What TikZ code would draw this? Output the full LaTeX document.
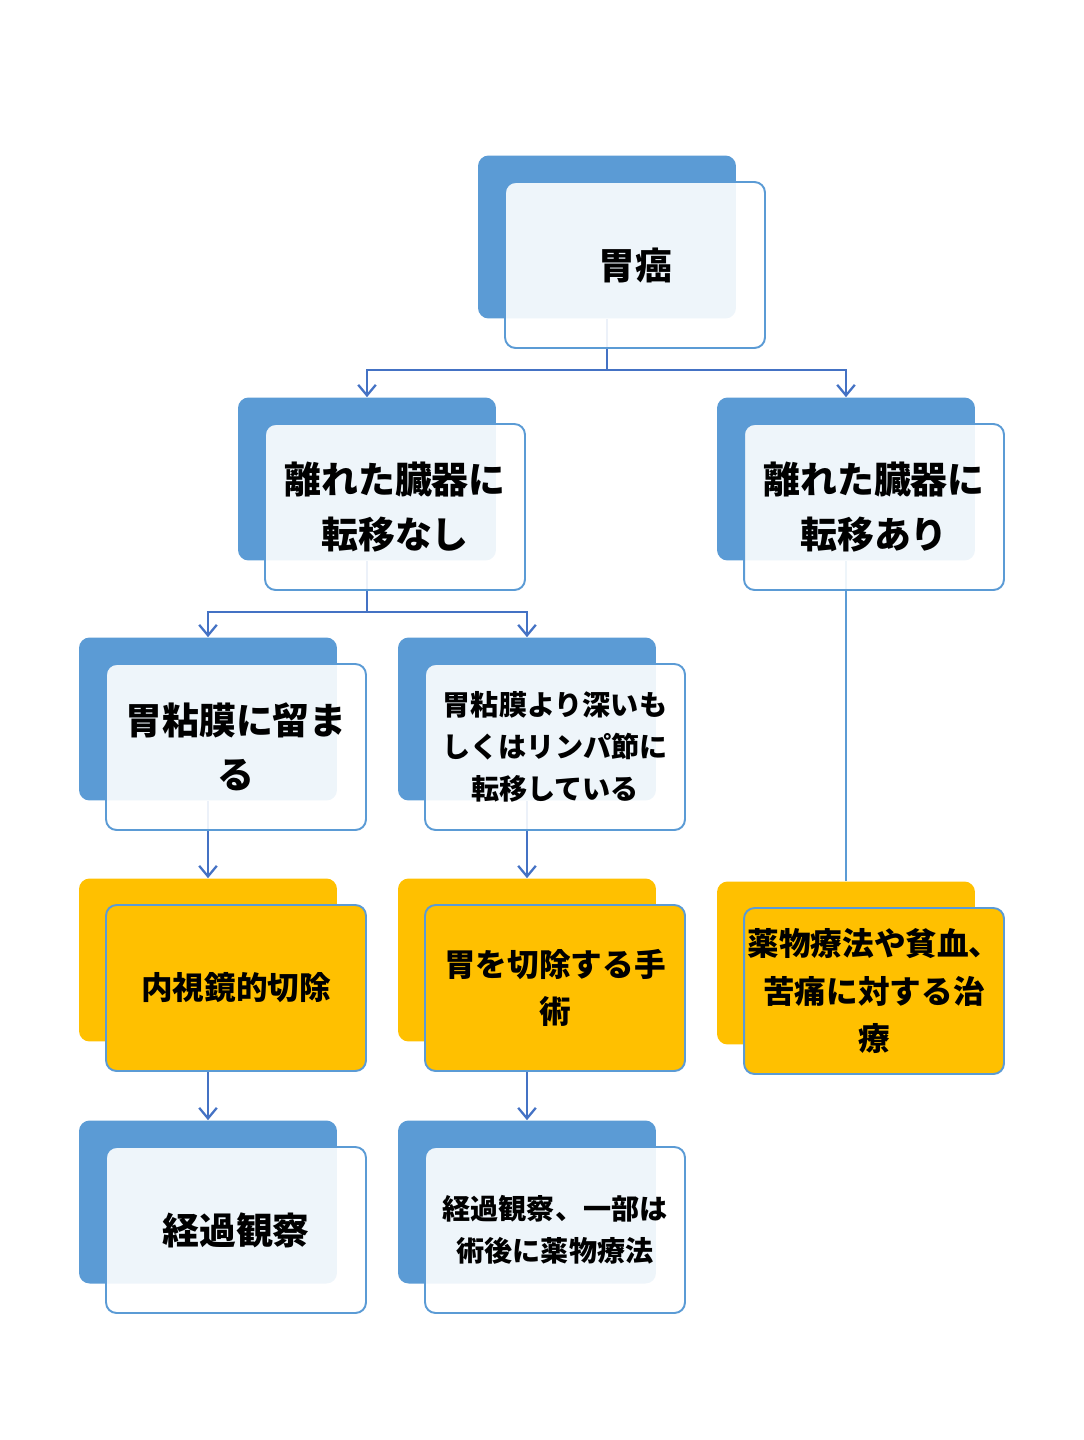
\documentclass[tikz,border=0pt]{standalone}
\usepackage{fontspec}
\newfontfamily\jp{Noto Sans CJK JP}
\usetikzlibrary{arrows.meta}
\definecolor{boxblue}{HTML}{5B9BD5}
\definecolor{lineblue}{HTML}{4472C4}
\definecolor{boxorange}{HTML}{FFC000}
\newcommand\szL{\jp\bfseries\fontsize{21}{31}\selectfont}
\newcommand\szM{\jp\bfseries\fontsize{18}{27}\selectfont}
\newcommand\szS{\jp\bfseries\fontsize{16}{24}\selectfont}

\begin{document}
\begin{tikzpicture}[
    x=0.02cm, y=-0.02cm,
    back/.style={fill=boxblue, rounded corners=6pt, minimum width=5.16cm,
                 minimum height=3.26cm, inner sep=0pt},
    backorg/.style={back, fill=boxorange},
    front/.style={draw=boxblue, line width=1.1pt, fill=white, fill opacity=0.9,
                  text opacity=1, rounded corners=6pt, minimum width=5.2cm,
                  minimum height=3.32cm, align=center, inner sep=0pt},
    frontorg/.style={front, fill=boxorange, fill opacity=1},
    arr/.style={-{Straight Barb[length=6pt, width=10pt]}, draw=lineblue, line width=1.3pt},
    lnk/.style={draw=lineblue, line width=1.3pt}
]
\useasboundingbox (0,0) rectangle (1084,1440);

% back boxes
\node[back]    (gan-b)      at (607,  237) {};
\node[back]    (nashi-b)    at (367,  479) {};
\node[back]    (ari-b)      at (846,  479) {};
\node[back]    (tomaru-b)   at (208,  719) {};
\node[back]    (fukai-b)    at (527,  719) {};
\node[backorg] (naishi-b)   at (208,  960) {};
\node[backorg] (setsujo-b)  at (527,  960) {};
\node[backorg] (yaku-b)     at (846,  963) {};
\node[back]    (keika-b)    at (208, 1202) {};
\node[back]    (ichibu-b)   at (527, 1202) {};

% connectors
\coordinate (j1) at (607, 370);
\coordinate (j2) at (367, 612);
\draw[lnk] (gan-b.south) -- (j1);
\draw[arr] (j1) -| (nashi-b.north);
\draw[arr] (j1) -| (ari-b.north);
\draw[lnk] (nashi-b.south) -- (j2);
\draw[arr] (j2) -| (tomaru-b.north);
\draw[arr] (j2) -| (fukai-b.north);
\draw[arr] (tomaru-b.south)  -- (naishi-b.north);
\draw[arr] (fukai-b.south)   -- (setsujo-b.north);
\draw[arr] (naishi-b.south)  -- (keika-b.north);
\draw[arr] (setsujo-b.south) -- (ichibu-b.north);
\draw[draw=boxblue, line width=1.3pt] (ari-b.south) -- (yaku-b.north);

% front boxes
\node[front, font=\szL]    (gan)     at (635,  265) {胃癌};
\node[front, font=\szL]    (nashi)   at (395,  507) {離れた臓器に\\転移なし};
\node[front, font=\szL]    (ari)     at (874,  507) {離れた臓器に\\転移あり};
\node[front, font=\szL]    (tomaru)  at (236,  747) {胃粘膜に留ま\\る};
\node[front, font=\szS]    (fukai)   at (555,  747) {胃粘膜より深いも\\しくはリンパ節に\\転移している};
\node[frontorg, font=\szM] (naishi)  at (236,  988) {内視鏡的切除};
\node[frontorg, font=\szM] (setsujo) at (555,  988) {胃を切除する手\\術};
\node[frontorg, font=\szM] (yaku)    at (874,  991) {薬物療法や貧血、\\苦痛に対する治\\療};
\node[front, font=\szL]    (keika)   at (236, 1230) {経過観察};
\node[front, font=\szS]    (ichibu)  at (555, 1230) {経過観察、一部は\\術後に薬物療法};
\end{tikzpicture}
\end{document}
